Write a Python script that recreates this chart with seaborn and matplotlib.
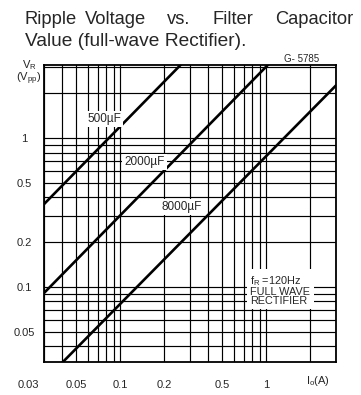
import matplotlib
matplotlib.use("Agg")
import matplotlib.pyplot as plt
import seaborn as sns
import pandas as pd
from matplotlib.ticker import LogLocator, NullFormatter
from matplotlib.transforms import ScaledTranslation

# curve data (Io in A, VR in Vpp)
capacitors = ["500µF", "2000µF", "8000µF"]
io_500 = [0.03, 0.26]
vr_500 = [0.36, 3.12]
io_2000 = [0.03, 1.03]
vr_2000 = [0.091, 3.12]
io_8000 = [0.04, 3.0]
vr_8000 = [0.031, 2.26]

x_ticks = [0.03, 0.05, 0.1, 0.2, 0.5, 1]
x_tick_labels = ["0.03", "0.05", "0.1", "0.2", "0.5", "1"]
y_ticks = [0.05, 0.1, 0.2, 0.5, 1]
y_tick_labels = ["0.05", "0.1", "0.2", "0.5", "1"]

# label anchor points (data coords)
label_x = [0.0776, 0.146, 0.264]
label_y = [1.34, 0.69, 0.344]

df = pd.concat([
    pd.DataFrame({"Io": io_500, "VR": vr_500, "C": capacitors[0]}),
    pd.DataFrame({"Io": io_2000, "VR": vr_2000, "C": capacitors[1]}),
    pd.DataFrame({"Io": io_8000, "VR": vr_8000, "C": capacitors[2]}),
])

sns.set_style("white")
plt.rcParams["font.family"] = ["Liberation Sans", "DejaVu Sans"]

fig = plt.figure(figsize=(3.61, 3.95), dpi=100)
ax = fig.add_axes([44 / 361, 33 / 395, 292 / 361, 297 / 395])

sns.lineplot(data=df, x="Io", y="VR", units="C", estimator=None,
             color="black", lw=1.9, ax=ax, zorder=3)

ax.set_xscale("log")
ax.set_yscale("log")
ax.set_xlim(0.03, 3.0)
ax.set_ylim(0.0313, 3.1)

ax.xaxis.set_minor_locator(LogLocator(base=10, subs=range(2, 10)))
ax.yaxis.set_minor_locator(LogLocator(base=10, subs=range(2, 10)))
ax.xaxis.set_minor_formatter(NullFormatter())
ax.yaxis.set_minor_formatter(NullFormatter())
ax.grid(which="both", color="black", lw=0.85)

ax.set_xticks(x_ticks)
ax.set_xticklabels(x_tick_labels)
ax.set_yticks(y_ticks)
ax.set_yticklabels(y_tick_labels, ha="center")
ax.tick_params(which="both", length=0, labelsize=8)
ax.tick_params(axis="x", pad=13)
ax.tick_params(axis="y", pad=14)
ax.set_xlabel("")
ax.set_ylabel("")

# first x label sits left of the frame in the original
first = ax.get_xticklabels()[0]
first.set_transform(first.get_transform() + ScaledTranslation(-0.16, 0, fig.dpi_scale_trans))

for s in ax.spines.values():
    s.set_color("black")
    s.set_linewidth(1.3)

for lab, lx, ly in zip(capacitors, label_x, label_y):
    ax.text(lx, ly, lab, ha="center", va="center", fontsize=8.5, zorder=4,
            bbox=dict(facecolor="white", edgecolor="none", pad=1.5))

ax.text(0.777, 0.0955, "f$_\\mathregular{R}$ =120Hz\nFULL WAVE\nRECTIFIER",
        ha="left", va="center", fontsize=7.8, linespacing=0.9, zorder=4,
        bbox=dict(facecolor="white", edgecolor="none", pad=2.5))

fig.text(29 / 361, 1 - 73 / 395, "V$_\\mathregular{R}$\n(V$_\\mathregular{pp}$)",
         ha="center", va="center", fontsize=8, linespacing=0.85)
fig.text(318 / 361, 1 - 381 / 395, "I$_\\mathregular{o}$(A)",
         ha="center", va="center", fontsize=8)
fig.text(302 / 361, 1 - 59 / 395, "G- 5785", ha="center", va="center", fontsize=7)

# title, first line spread across the width
title_words = ["Ripple", "Voltage", "vs.", "Filter", "Capacitor"]
title_x = [25, 85, 167, 212, 275]
for w, tx in zip(title_words, title_x):
    fig.text(tx / 361, 1 - 20 / 395, w, ha="left", va="center", fontsize=13.2)
fig.text(25 / 361, 1 - 42 / 395, "Value (full-wave Rectifier).", ha="left",
         va="center", fontsize=13.8)

fig.savefig("out.png", dpi=100)
